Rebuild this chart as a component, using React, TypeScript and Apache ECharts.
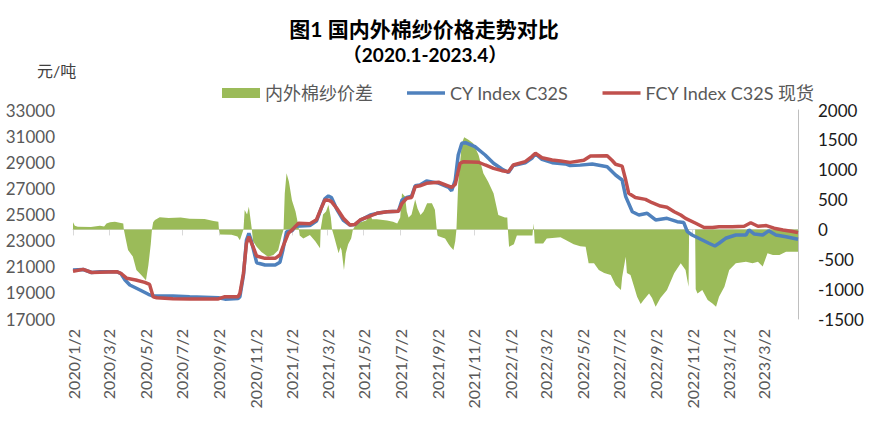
import React, { useEffect, useRef } from "react";
import * as echarts from "echarts";

const FONT = "Lato, 'Noto Sans CJK SC', sans-serif";

const startDate = "2020/1/2";
const endDate = "2023/4/28";

const tickLabels = [
  "2020/1/2", "2020/3/2", "2020/5/2", "2020/7/2", "2020/9/2", "2020/11/2",
  "2021/1/2", "2021/3/2", "2021/5/2", "2021/7/2", "2021/9/2", "2021/11/2",
  "2022/1/2", "2022/3/2", "2022/5/2", "2022/7/2", "2022/9/2", "2022/11/2",
  "2023/1/2", "2023/3/2",
];

const seriesNames = ["内外棉纱价差", "CY Index C32S", "FCY Index C32S 现货"];

// CY Index C32S (left axis, 元/吨)
const cyDates = [
  "2020/1/2", "2020/1/19", "2020/2/2", "2020/2/16", "2020/3/15", "2020/3/22", "2020/3/29", "2020/4/6",
  "2020/4/23", "2020/5/7", "2020/5/15", "2020/6/17", "2020/7/15", "2020/9/1", "2020/9/12", "2020/10/4",
  "2020/10/7", "2020/10/13", "2020/10/18", "2020/10/22", "2020/10/26", "2020/11/4", "2020/11/18", "2020/12/5",
  "2020/12/13", "2020/12/18", "2020/12/24", "2021/1/2", "2021/1/8", "2021/2/1", "2021/2/12", "2021/2/21",
  "2021/2/26", "2021/3/4", "2021/3/9", "2021/3/18", "2021/3/29", "2021/4/9", "2021/4/17", "2021/4/26",
  "2021/5/13", "2021/5/24", "2021/6/10", "2021/6/29", "2021/7/5", "2021/7/13", "2021/7/21", "2021/7/27",
  "2021/8/4", "2021/8/15", "2021/9/4", "2021/9/21", "2021/9/26", "2021/10/2", "2021/10/7", "2021/10/13",
  "2021/10/19", "2021/11/4", "2021/11/21", "2021/12/5", "2021/12/19", "2021/12/30", "2022/1/7", "2022/1/27",
  "2022/2/7", "2022/2/13", "2022/2/24", "2022/3/13", "2022/4/4", "2022/4/12", "2022/4/29", "2022/5/19",
  "2022/6/13", "2022/6/27", "2022/7/8", "2022/7/14", "2022/7/25", "2022/8/5", "2022/8/19", "2022/9/2",
  "2022/9/21", "2022/10/8", "2022/10/19", "2022/10/25", "2022/11/2", "2022/11/19", "2022/11/30", "2022/12/10",
  "2022/12/17", "2022/12/28", "2023/1/14", "2023/1/31", "2023/2/5", "2023/2/14", "2023/2/28", "2023/3/10",
  "2023/3/22", "2023/4/8", "2023/4/28",
];
const cyValues = [
  20750, 20790, 20560, 20620, 20620, 20480, 19990, 19600,
  19220, 18890, 18760, 18760, 18700, 18620, 18520, 18560,
  18700, 20370, 23050, 23560, 23000, 21310, 21130, 21130,
  21350, 22300, 23690, 23750, 24100, 24150, 24500, 25600,
  26200, 26420, 26300, 25400, 24550, 24200, 24230, 24550,
  24960, 25090, 25215, 25250, 26100, 26300, 26400, 27200,
  27260, 27565, 27400, 27080, 26820, 27640, 29555, 30450,
  30500, 30190, 29555, 28920, 28480, 28220, 28750, 28950,
  29300, 29650, 29220, 28970, 28870, 28750, 28780, 28870,
  28660, 28025, 27640, 26365, 25215, 24960, 25090, 24580,
  24710, 24450, 24380, 23690, 23430, 23050, 22800, 22590,
  22800, 23180, 23430, 23430, 23815, 23500, 23430, 23750,
  23430, 23300, 23100,
];

// FCY Index C32S 现货 (left axis, 元/吨)
const fcyDates = [
  "2020/1/2", "2020/1/19", "2020/2/2", "2020/3/15", "2020/3/22", "2020/4/1", "2020/4/16", "2020/5/1",
  "2020/5/9", "2020/5/15", "2020/5/21", "2020/6/17", "2020/7/15", "2020/9/1", "2020/9/12", "2020/10/4",
  "2020/10/7", "2020/10/13", "2020/10/18", "2020/10/22", "2020/10/29", "2020/11/4", "2020/11/18", "2020/12/5",
  "2020/12/13", "2020/12/18", "2020/12/27", "2021/1/4", "2021/1/13", "2021/2/1", "2021/2/12", "2021/2/21",
  "2021/2/26", "2021/3/4", "2021/3/9", "2021/3/18", "2021/3/29", "2021/4/9", "2021/4/17", "2021/4/26",
  "2021/5/13", "2021/5/24", "2021/6/10", "2021/6/29", "2021/7/5", "2021/7/13", "2021/7/21", "2021/7/27",
  "2021/8/4", "2021/8/15", "2021/9/4", "2021/9/21", "2021/9/26", "2021/10/2", "2021/10/10", "2021/10/16",
  "2021/11/10", "2021/11/21", "2021/12/5", "2021/12/19", "2021/12/30", "2022/1/7", "2022/1/27", "2022/2/7",
  "2022/2/13", "2022/2/24", "2022/3/13", "2022/3/27", "2022/4/12", "2022/5/5", "2022/5/16", "2022/6/13",
  "2022/6/21", "2022/6/27", "2022/7/8", "2022/7/14", "2022/7/19", "2022/7/30", "2022/8/16", "2022/8/27",
  "2022/9/10", "2022/9/21", "2022/10/3", "2022/10/14", "2022/10/22", "2022/11/8", "2022/11/22", "2022/12/6",
  "2022/12/17", "2023/1/8", "2023/1/28", "2023/2/8", "2023/2/20", "2023/3/6", "2023/3/19", "2023/4/3",
  "2023/4/19", "2023/4/28",
];
const fcyValues = [
  20650, 20800, 20560, 20620, 20500, 20115, 19990, 19800,
  19650, 18700, 18630, 18555, 18540, 18540, 18710, 18710,
  18960, 20500, 22795, 23300, 22535, 21820, 21645, 21645,
  21900, 22535, 23560, 23900, 24330, 24300, 24600, 25600,
  26110, 26100, 25990, 25475, 24710, 24200, 24230, 24580,
  24885, 25090, 25215, 25250, 25855, 26240, 26300, 27130,
  27200, 27390, 27470, 27180, 27080, 27300, 28920, 29045,
  29000, 28790, 28530, 28355, 28275, 28790, 29045, 29430,
  29690, 29350, 29170, 29100, 28990, 29150, 29480, 29500,
  29150, 28845, 28700, 27640, 26620, 26300, 26160, 25900,
  25650, 25550, 25215, 24960, 24700, 24330, 24000, 24000,
  24070, 24070, 24100, 24370, 24100, 24150, 23950, 23815,
  23700, 23610,
];

// 内外棉纱价差 (right axis)
const spreadDates = [
  "2020/1/2", "2020/1/5", "2020/1/10", "2020/2/1", "2020/2/16", "2020/2/23", "2020/2/27", "2020/3/4",
  "2020/3/12", "2020/3/20", "2020/3/26", "2020/3/27", "2020/3/30", "2020/4/3", "2020/4/11", "2020/4/17",
  "2020/4/25", "2020/5/3", "2020/5/7", "2020/5/11", "2020/5/13", "2020/5/15", "2020/5/18", "2020/5/26",
  "2020/6/10", "2020/6/30", "2020/7/15", "2020/8/9", "2020/8/24", "2020/9/1", "2020/9/2", "2020/9/4",
  "2020/9/23", "2020/10/3", "2020/10/7", "2020/10/11", "2020/10/13", "2020/10/15", "2020/10/19", "2020/10/22",
  "2020/10/25", "2020/10/27", "2020/10/29", "2020/11/4", "2020/11/12", "2020/11/23", "2020/12/2", "2020/12/10",
  "2020/12/16", "2020/12/19", "2020/12/21", "2020/12/24", "2020/12/28", "2021/1/2", "2021/1/8", "2021/1/13",
  "2021/1/15", "2021/1/21", "2021/2/1", "2021/2/10", "2021/2/18", "2021/2/19", "2021/2/23", "2021/2/28",
  "2021/3/4", "2021/3/8", "2021/3/10", "2021/3/13", "2021/3/21", "2021/3/24", "2021/3/26", "2021/3/30",
  "2021/4/2", "2021/4/6", "2021/4/11", "2021/4/14", "2021/4/20", "2021/5/6", "2021/5/13", "2021/5/16",
  "2021/5/24", "2021/6/10", "2021/6/20", "2021/6/27", "2021/7/2", "2021/7/5", "2021/7/10", "2021/7/13",
  "2021/7/16", "2021/7/21", "2021/7/27", "2021/7/31", "2021/8/5", "2021/8/10", "2021/8/16", "2021/8/24",
  "2021/8/29", "2021/9/1", "2021/9/3", "2021/9/15", "2021/9/21", "2021/9/24", "2021/9/29", "2021/10/2",
  "2021/10/4", "2021/10/7", "2021/10/13", "2021/10/17", "2021/10/24", "2021/11/1", "2021/11/10", "2021/11/18",
  "2021/11/26", "2021/12/5", "2021/12/13", "2021/12/24", "2021/12/28", "2021/12/29", "2021/12/31", "2022/1/8",
  "2022/1/13", "2022/2/8", "2022/2/10", "2022/2/12", "2022/2/26", "2022/3/4", "2022/3/27", "2022/4/7",
  "2022/4/18", "2022/4/29", "2022/5/8", "2022/5/13", "2022/5/22", "2022/5/30", "2022/6/8", "2022/6/19",
  "2022/6/27", "2022/7/6", "2022/7/8", "2022/7/14", "2022/7/16", "2022/7/22", "2022/7/28", "2022/8/2",
  "2022/8/8", "2022/8/13", "2022/8/22", "2022/8/27", "2022/9/2", "2022/9/10", "2022/9/21", "2022/10/3",
  "2022/10/14", "2022/10/22", "2022/10/27", "2022/10/28", "2022/11/7", "2022/11/8", "2022/11/11", "2022/11/19",
  "2022/11/28", "2022/12/6", "2022/12/12", "2022/12/17", "2022/12/26", "2023/1/3", "2023/1/14", "2023/1/31",
  "2023/2/11", "2023/2/20", "2023/2/28", "2023/3/8", "2023/3/17", "2023/3/28", "2023/4/8", "2023/4/28",
];
const spreadValues = [
  120, 60, 45, 40, 60, 50, 100, 120,
  130, 110, 100, 0, -150, -345, -455, -680,
  -765, -850, -600, -250, 0, 120, 157, 203,
  190, 200, 180, 175, 140, 130, 0, -85,
  -90, -120, -180, -60, 0, 325, 250, 380,
  150, 0, -200, -290, -380, -457, -430, -350,
  -100, 0, 600, 940, 800, 490, 300, 50,
  -100, -150, -94, -200, -317, 0, 250, 300,
  410, 200, 0, -100, -400, -300, -350, -680,
  -400, -250, -150, 0, 100, 150, 250, 170,
  170, 150, 130, 100, 200, 605, 550, 300,
  200, 250, 500, 350, 240, 300, 437, 437,
  330, 0, -111, -150, -250, -290, -345, -200,
  0, 772, 1442, 1542, 1500, 1442, 1246, 940,
  800, 605, 241, 200, 200, 0, -290, -250,
  -100, -100, 100, -234, -234, -150, -130, -190,
  -250, -280, -290, -568, -568, -680, -730, -765,
  -932, -1015, -800, -457, -730, -765, -960, -1127,
  -1250, -1180, -1072, -1150, -1295, -1150, -1015, -735,
  -568, -680, -960, 0, 0, -1000, -1072, -1015,
  -1180, -1240, -1295, -1127, -960, -680, -568, -540,
  -568, -540, -620, -400, -430, -430, -373, -373,
];

function parseDate(s: string) {
  const [y, m, d] = s.split("/").map(Number);
  return Date.UTC(y, m - 1, d);
}

function buildCategories() {
  const out: string[] = [];
  const end = parseDate(endDate);
  for (let t = parseDate(startDate); t <= end; t += 86400000) {
    const dt = new Date(t);
    out.push(`${dt.getUTCFullYear()}/${dt.getUTCMonth() + 1}/${dt.getUTCDate()}`);
  }
  return out;
}

export default function App() {
  const ref = useRef<HTMLDivElement>(null);

  useEffect(() => {
    document.body.style.margin = "0";
    if (!ref.current) return;
    const chart = echarts.init(ref.current, null, { renderer: "svg" });

    const categories = buildCategories();
    const indexOf: Record<string, number> = {};
    categories.forEach((c, i) => (indexOf[c] = i));
    const toSeries = (dates: string[], values: number[]) => {
      const arr: (number | null)[] = new Array(categories.length).fill(null);
      dates.forEach((d, i) => {
        if (indexOf[d] !== undefined) arr[indexOf[d]] = values[i];
      });
      return arr;
    };
    const tickSet = new Set(tickLabels);
    const showTick = (_i: number, v: string) => tickSet.has(v);
    const lineIcon = "path://M0,0H38V3.5H0Z";
    const plain = (v: number) => String(v);

    chart.setOption({
      animation: false,
      backgroundColor: "#ffffff",
      textStyle: { fontFamily: FONT },
      title: [
        {
          text: "图1 国内外棉纱价格走势对比",
          left: 424,
          top: 18,
          textAlign: "center",
          padding: 0,
          textStyle: { fontSize: 21, fontWeight: "bold", color: "#000", fontFamily: FONT },
        },
        {
          text: "（2020.1-2023.4）",
          left: 425,
          top: 45,
          textAlign: "center",
          padding: 0,
          textStyle: { fontSize: 19, fontWeight: "bold", color: "#000", fontFamily: FONT },
        },
        {
          text: "元/吨",
          left: 37,
          top: 62,
          padding: 0,
          textStyle: { fontSize: 16, fontWeight: "normal", color: "#404040", fontFamily: FONT },
        },
      ],
      legend: {
        left: 217,
        top: 79,
        itemWidth: 38,
        itemHeight: 10,
        itemGap: 34,
        symbolKeepAspect: true,
        textStyle: { fontSize: 18, color: "#595959", fontFamily: FONT },
        data: [
          { name: seriesNames[0], icon: "rect" },
          { name: seriesNames[1], icon: lineIcon },
          { name: seriesNames[2], icon: lineIcon },
        ],
      },
      grid: { left: 73, right: 91, top: 110, bottom: 105 },
      xAxis: {
        type: "category",
        data: categories,
        boundaryGap: false,
        axisLine: { show: true, lineStyle: { color: "#D9D9D9", width: 1 } },
        axisTick: { show: true, interval: showTick, length: 6, lineStyle: { color: "#D9D9D9" } },
        axisLabel: {
          interval: showTick,
          rotate: 90,
          margin: 10,
          color: "#595959",
          fontSize: 16,
          fontFamily: FONT,
        },
        splitLine: { show: false },
      },
      yAxis: [
        {
          type: "value",
          min: 17000,
          max: 33000,
          interval: 2000,
          axisLine: { show: false },
          axisTick: { show: false },
          splitLine: { show: false },
          axisLabel: { color: "#595959", fontSize: 17, margin: 18, fontFamily: FONT, formatter: plain },
        },
        {
          type: "value",
          min: -1500,
          max: 2000,
          interval: 500,
          position: "right",
          axisLine: { show: true, lineStyle: { color: "#BFBFBF", width: 1 } },
          axisTick: { show: false },
          splitLine: { show: false },
          axisLabel: { color: "#1a1a1a", fontSize: 17, margin: 20, fontFamily: FONT, formatter: plain },
        },
      ],
      series: [
        {
          name: seriesNames[0],
          type: "line",
          yAxisIndex: 1,
          data: toSeries(spreadDates, spreadValues),
          connectNulls: true,
          symbol: "none",
          showSymbol: false,
          lineStyle: { width: 0, color: "#9BBB59" },
          itemStyle: { color: "#9BBB59" },
          areaStyle: { color: "#9BBB59", opacity: 1 },
          z: 1,
        },
        {
          name: seriesNames[1],
          type: "line",
          yAxisIndex: 0,
          data: toSeries(cyDates, cyValues),
          connectNulls: true,
          symbol: "none",
          showSymbol: false,
          lineStyle: { width: 3.5, color: "#4F81BD" },
          itemStyle: { color: "#4F81BD" },
          z: 2,
        },
        {
          name: seriesNames[2],
          type: "line",
          yAxisIndex: 0,
          data: toSeries(fcyDates, fcyValues),
          connectNulls: true,
          symbol: "none",
          showSymbol: false,
          lineStyle: { width: 3.5, color: "#C0504D" },
          itemStyle: { color: "#C0504D" },
          z: 3,
        },
      ],
    });

    return () => chart.dispose();
  }, []);

  return <div ref={ref} style={{ width: 889, height: 424 }} />;
}
